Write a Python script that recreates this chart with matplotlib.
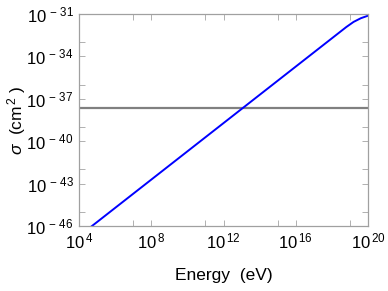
import numpy as np
import matplotlib
matplotlib.use("Agg")
import matplotlib.pyplot as plt

plt.rcParams['font.family'] = 'Liberation Sans'
plt.rcParams['mathtext.fontset'] = 'custom'
plt.rcParams['mathtext.rm'] = 'Liberation Sans'
plt.rcParams['mathtext.it'] = 'Liberation Sans:italic'

# curve (log10 values)
log_energy = [4.0, 8.0, 12.0, 16.0, 18.8, 19.2, 19.6, 20.0]
log_sigma = [-46.72, -42.72, -38.72, -34.72, -31.92, -31.56, -31.30, -31.12]
flat_sigma = 2.3e-38

x_major = [4, 8, 12, 16, 20]
x_minor = [7, 11, 15, 19]
y_major = [-46, -43, -40, -37, -34, -31]
y_minor = [-45, -42, -39, -36, -33]

energy = 10.0 ** np.array(log_energy)
sigma = 10.0 ** np.array(log_sigma)

fig = plt.figure(figsize=(3.88, 2.91), dpi=100)
ax = fig.add_axes([0.2036, 0.2234, 0.7449, 0.7285])

ax.axhline(flat_sigma, color='#808080', lw=1.6)
ax.plot(energy, sigma, color='#0000ff', lw=1.4)

ax.set_xscale('log')
ax.set_yscale('log')
ax.set_xlim(1e4, 1e20)
ax.set_ylim(1e-46, 1e-31)

ax.set_xticks([10.0 ** e for e in x_major])
ax.set_xticklabels([r'$10^{\,%d}$' % e for e in x_major])
ax.set_xticks([10.0 ** e for e in x_minor], minor=True)
ax.set_xticklabels([], minor=True)
ax.set_yticks([10.0 ** e for e in y_major])
ax.set_yticklabels([r'$10^{\,-\,%d}$' % -e for e in y_major])
ax.set_yticks([10.0 ** e for e in y_minor], minor=True)
ax.set_yticklabels([], minor=True)

for s in ax.spines.values():
    s.set_color('#a0a0a0')
    s.set_linewidth(0.9)
ax.tick_params(which='both', direction='in', length=4, width=0.7,
               color='#b0b0b0', top=True, right=True, labelsize=12, pad=4)

ax.set_xlabel('Energy  (eV)', fontsize=12.5, labelpad=12)
ax.set_ylabel(r'$\mathit{\sigma}$  (cm$^{\,2}$ )', fontsize=12.5, labelpad=-1)

fig.savefig('out.png', dpi=100)
